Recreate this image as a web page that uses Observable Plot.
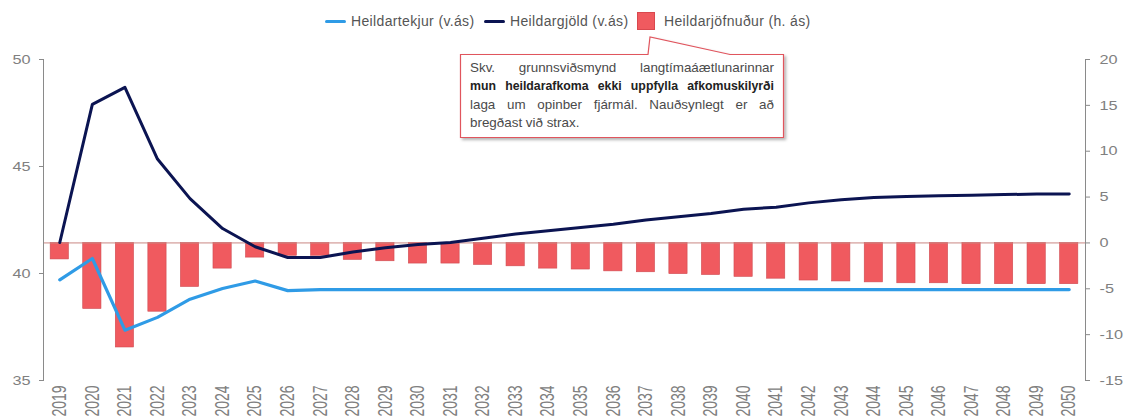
<!DOCTYPE html>
<html>
<head>
<meta charset="utf-8">
<script src="https://cdn.jsdelivr.net/npm/d3@7"></script>
<script src="https://cdn.jsdelivr.net/npm/@observablehq/plot@0.6"></script>
<style>
  html, body { margin: 0; padding: 0; background: #fff; }
  body { width: 1126px; height: 418px; position: relative; overflow: hidden; font-family: "Liberation Sans", Arial, sans-serif; }
  #legend { position: relative; height: 40px; width: 1126px; }
  .lg-item { position: absolute; top: 12px; height: 18px; display: flex; align-items: center; font-size: 14px; letter-spacing: 0.35px; color: #555; white-space: nowrap; }
  .lg-line { display: inline-block; width: 21px; height: 3px; border-radius: 2px; margin-right: 5px; }
  .lg-box { display: inline-block; width: 18px; height: 18px; margin-right: 9px; background: #f05a5f; box-sizing: border-box; border: 1px solid #d9484e; }
  #callout { position: absolute; left: 0; top: 0; width: 1126px; height: 418px; pointer-events: none; }
  #note { position: absolute; left: 470px; top: 59px; width: 304px; font-size: 13.4px; line-height: 18.4px; color: #4a4a4a; }
  #note .j { text-align: justify; text-align-last: justify; white-space: nowrap; }
  #note .b { font-weight: bold; color: #222; font-size: 12.3px; }
</style>
</head>
<body>
<div id="legend"></div>
<div id="chart"></div>
<svg id="callout" width="1126" height="418">
  <defs>
    <filter id="sh" x="-10%" y="-10%" width="130%" height="140%">
      <feDropShadow dx="2" dy="2" stdDeviation="1.5" flood-color="#000" flood-opacity="0.3"/>
    </filter>
  </defs>
</svg>
<div id="note"></div>
<script>
const years = ["2019","2020","2021","2022","2023","2024","2025","2026","2027","2028","2029","2030","2031","2032","2033","2034","2035","2036","2037","2038","2039","2040","2041","2042","2043","2044","2045","2046","2047","2048","2049","2050"];
const heildartekjur = [39.7,40.7,37.35,37.95,38.8,39.3,39.65,39.2,39.25,39.25,39.25,39.25,39.25,39.25,39.25,39.25,39.25,39.25,39.25,39.25,39.25,39.25,39.25,39.25,39.25,39.25,39.25,39.25,39.25,39.25,39.25,39.25];
const heildargjold = [41.45,47.9,48.7,45.35,43.5,42.1,41.25,40.75,40.75,41.0,41.2,41.35,41.45,41.65,41.85,42.0,42.15,42.3,42.5,42.65,42.8,43.0,43.1,43.3,43.45,43.55,43.6,43.63,43.66,43.69,43.71,43.72];
const heildarjofnudur = [-1.8,-7.2,-11.4,-7.5,-4.8,-2.8,-1.6,-1.4,-1.4,-1.85,-2.0,-2.25,-2.25,-2.4,-2.55,-2.8,-2.9,-3.1,-3.2,-3.4,-3.5,-3.7,-3.9,-4.1,-4.2,-4.3,-4.4,-4.4,-4.5,-4.5,-4.5,-4.5];
const leftTicks = [35, 40, 45, 50];
const rightTicks = [-15, -10, -5, 0, 5, 10, 15, 20];
const leftDomain = [35, 50];
const rightDomain = [-15, 20];
const seriesNames = ["Heildartekjur (v.ás)", "Heildargjöld (v.ás)", "Heildarjöfnuður (h. ás)"];
const seriesColors = ["#2f9be6", "#0b1452", "#f05a5f"];
const noteLines = [
  "Skv. grunnsviðsmynd langtímaáætlunarinnar",
  "mun heildarafkoma ekki uppfylla afkomuskilyrði",
  "laga um opinber fjármál. Nauðsynlegt er að",
  "bregðast við strax."
];

// map right-axis values onto left-axis scale
const toLeft = d3.scaleLinear().domain(rightDomain).range(leftDomain);

const data = years.map((y, i) => ({year: y, tekjur: heildartekjur[i], gjold: heildargjold[i], bal: heildarjofnudur[i]}));

// Legend
const legend = document.getElementById("legend");
const lgPos = [325, 484, 637];
seriesNames.forEach((name, i) => {
  const it = document.createElement("div");
  it.className = "lg-item";
  it.style.left = lgPos[i] + "px";
  const sw = document.createElement("span");
  if (i < 2) { sw.className = "lg-line"; sw.style.background = seriesColors[i]; }
  else { sw.className = "lg-box"; }
  it.appendChild(sw);
  it.appendChild(document.createTextNode(name));
  legend.appendChild(it);
});

const plot = Plot.plot({
  width: 1126,
  height: 378,
  marginTop: 19,
  marginBottom: 38,
  marginLeft: 43,
  marginRight: 41,
  style: {fontFamily: "Liberation Sans, Arial, sans-serif", fontSize: "13px", color: "#808080", background: "transparent"},
  x: {type: "band", domain: years, paddingInner: 0.44, paddingOuter: 0.22, round: false, label: null},
  y: {domain: leftDomain, label: null},
  marks: [
    Plot.barY(data, {x: "year", y1: d => toLeft(0), y2: d => toLeft(d.bal), fill: seriesColors[2], stroke: "#cf4a50", strokeWidth: 0.6}),
    Plot.ruleY([toLeft(0)], {stroke: "#c98682", strokeWidth: 1}),
    Plot.line(data, {x: "year", y: "gjold", stroke: seriesColors[1], strokeWidth: 3}),
    Plot.line(data, {x: "year", y: "tekjur", stroke: seriesColors[0], strokeWidth: 3.2}),
    Plot.frame({anchor: "left", stroke: "#8a8a8a"}),
    Plot.frame({anchor: "right", stroke: "#8a8a8a"}),
    Plot.axisY({anchor: "left", ticks: leftTicks, tickSize: 4, tickPadding: 9, stroke: "#8a8a8a", fill: "#808080", label: null}),
    Plot.axisY(rightTicks.map(toLeft), {anchor: "right", tickSize: 4, tickPadding: 10, tickFormat: v => String(Math.round(toLeft.invert(v))), stroke: "#8a8a8a", fill: "#808080", label: null}),
    Plot.axisX({anchor: "bottom", tickRotate: -90, tickSize: 0, tickPadding: 5, fill: "#808080", label: null, fontSize: 14})
  ]
});
document.getElementById("chart").appendChild(plot);

// widen tick labels to match the reference's horizontally stretched lettering
plot.querySelectorAll('g[aria-label="x-axis tick label"] text').forEach(t => {
  const tr = t.getAttribute("transform") || "";
  t.setAttribute("transform", tr + " scale(1,1.4)");
});
plot.querySelectorAll('g[aria-label="y-axis tick label"] text').forEach(t => {
  const x = +(t.getAttribute("x") || 0);
  const tr = t.getAttribute("transform") || "";
  t.setAttribute("transform", `${tr} translate(${x},0) scale(1.25,1) translate(${-x},0)`);
});

// Callout box
const co = d3.select("#callout");
co.append("path")
  .attr("d", "M460.5,54.5 L648,54.5 L650,37 L730,54.5 L783.5,54.5 L783.5,137.5 L460.5,137.5 Z")
  .attr("fill", "#fff")
  .attr("stroke", "#e0545d")
  .attr("stroke-width", 1.2)
  .attr("filter", "url(#sh)");

const note = document.getElementById("note");
noteLines.forEach((l, i) => {
  const d = document.createElement("div");
  if (i < 3) d.className = "j";
  if (i === 1) d.className += " b";
  d.textContent = l;
  note.appendChild(d);
});
</script>
</body>
</html>
